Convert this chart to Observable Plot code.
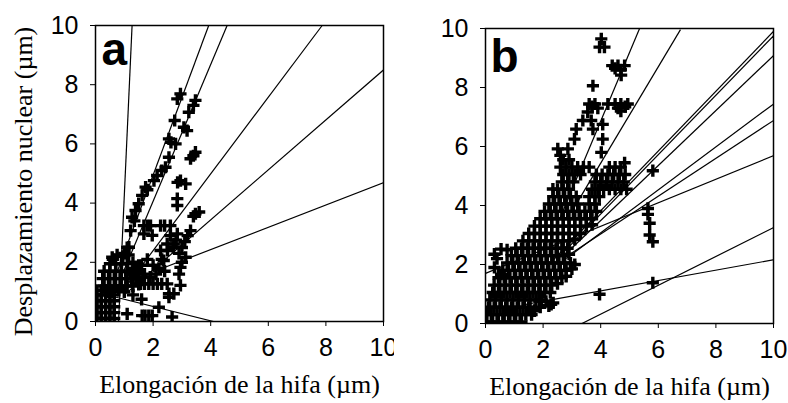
<!DOCTYPE html>
<html><head><meta charset="utf-8">
<script src="https://cdn.jsdelivr.net/npm/d3@7"></script>
<script src="https://cdn.jsdelivr.net/npm/@observablehq/plot@0.6"></script>
<style>
html,body{margin:0;padding:0;background:#fff;}
#wrap{position:relative;width:788px;height:403px;}
#pa{position:absolute;left:0;top:0;}
#pb{position:absolute;left:394px;top:0;}
</style></head>
<body><div id="wrap"><div id="pa"></div><div id="pb"></div></div>
<script>
const xTicks = [0, 2, 4, 6, 8, 10];
const yTicks = [0, 2, 4, 6, 8, 10];
const xLabel = "Elongación de la hifa (µm)";
const yLabel = "Desplazamiento nuclear (µm)";
const panelLetters = ["a", "b"];

// Panel a: regression lines [x1, y1, x2, y2]
const linesA = [
  [0.80, 0.00, 1.27, 10.0],
  [0.70, 1.54, 3.93, 10.0],
  [0.90, 1.52, 4.57, 10.0],
  [1.00, 1.10, 7.87, 10.0],
  [1.00, 0.90, 10.0, 8.50],
  [1.00, 1.30, 10.0, 4.69],
  [0.30, 0.92, 4.10, 0.00]
];
// Panel a: observations [x, y]
const pointsA = [
  [2.95,7.69],[2.84,7.52],[3.47,7.47],[3.40,7.30],[3.24,7.07],[2.75,6.79],[3.07,6.56],[3.18,6.45],
  [2.55,6.17],[2.62,6.05],[2.78,6.00],[3.47,5.72],[3.40,5.60],[3.30,5.50],[2.55,5.55],[2.43,5.21],
  [2.30,5.10],[2.14,4.93],[2.03,4.76],[2.95,4.76],[3.13,4.65],[2.85,4.70],[1.74,4.54],[1.80,4.45],
  [1.62,4.26],[2.84,4.15],[2.84,3.92],[3.47,3.64],[3.60,3.70],[3.40,3.55],[1.50,3.98],[1.39,3.75],
  [1.27,3.52],[1.35,3.40],[1.68,3.24],[1.80,3.24],[1.91,3.24],[2.26,3.24],[2.40,3.24],[2.60,3.24],
  [1.97,2.91],[1.68,2.96],[2.84,2.96],[2.72,2.62],[2.49,2.62],[3.30,3.07],[3.20,2.90],[3.13,2.17],
  [2.26,2.40],[2.37,2.06],[1.22,3.07],[1.16,2.51],[0.58,2.17],[2.60,2.90],[2.80,2.75],[3.00,2.50],
  [2.90,2.30],[2.50,2.40],[2.70,2.50],[3.10,2.70],[2.95,1.83],[2.90,1.60],[3.00,2.00],[2.72,0.94],
  [2.55,0.94],[2.95,1.22],[1.56,1.27],[1.70,1.27],[1.85,1.27],[2.00,1.27],[2.15,1.27],[2.30,1.27],
  [2.49,1.27],[1.10,0.26],[1.62,0.20],[1.72,0.20],[1.85,0.20],[1.97,0.20],[2.66,0.15],[2.55,0.82],
  [2.20,0.48],[1.60,0.75],[1.30,0.90],[1.30,1.80],[1.50,1.70],[1.70,1.60],[1.90,1.50],[2.10,1.60],
  [1.40,1.50],[1.20,1.60],[1.60,1.90],[1.80,2.10],[2.00,1.90],[2.20,1.80],[2.30,2.10],[2.40,1.70],
  [0.30,1.20],[0.50,1.20],[0.70,1.20],[0.90,1.20],[1.10,1.20],[1.30,1.20],[1.50,1.25],
  [0.25,1.45],[0.45,1.45],[0.65,1.45],[0.85,1.45],[1.05,1.45],[1.25,1.45],[1.45,1.45],[1.65,1.50],
  [0.30,1.70],[0.50,1.70],[0.70,1.70],[0.90,1.70],[1.10,1.70],[1.30,1.65],[1.50,1.90],
  [0.50,1.95],[0.70,1.95],[0.90,1.95],[1.10,1.95],[1.30,2.00],[0.95,2.20],[1.15,2.25],
  [1.00,2.30],[1.10,2.50],[0.60,2.10],[0.75,2.25],[0.40,1.00],[0.60,1.00],[0.80,1.05],[1.00,1.00],
  [0.05,0.10],[0.20,0.10],[0.35,0.10],[0.50,0.10],[0.65,0.10],
  [0.05,0.30],[0.20,0.30],[0.35,0.30],[0.50,0.30],[0.65,0.30],
  [0.05,0.50],[0.20,0.50],[0.35,0.50],[0.50,0.50],[0.65,0.50],
  [0.05,0.70],[0.20,0.70],[0.35,0.70],[0.50,0.70],[0.65,0.70],
  [0.05,0.90],[0.20,0.90],[0.35,0.90],[0.50,0.90],[0.65,0.90],
  [0.05,1.05],[0.20,1.05],[0.35,1.05],[0.50,1.05],[0.65,1.05]
];

// Panel b: regression lines [x1, y1, x2, y2]
const linesB = [
  [2.60, 3.60, 5.35, 10.0],
  [3.00, 3.80, 6.77, 9.96],
  [2.30, 2.10, 10.0, 9.90],
  [2.50, 2.20, 10.0, 9.75],
  [3.00, 2.56, 10.0, 9.08],
  [2.80, 2.20, 10.0, 7.44],
  [2.70, 2.20, 10.0, 6.88],
  [0.00, 1.70, 10.0, 5.69],
  [3.35, 0.00, 10.0, 3.25],
  [1.40, 0.65, 10.0, 2.16]
];
// Panel b: observations [x, y]
const pointsB = [
  // sparse upper part
  [4.02,9.65],[4.13,9.37],[3.96,9.37],[4.40,8.74],[4.50,8.65],[4.60,8.74],[4.70,8.60],[4.83,8.74],
  [4.71,8.42],[3.73,8.06],[3.60,7.44],[3.70,7.35],[3.80,7.44],[3.90,7.30],[4.25,7.44],[4.50,7.44],
  [4.60,7.30],[4.70,7.44],[4.85,7.35],[4.94,7.44],[4.70,7.20],[3.55,7.17],[3.38,6.88],[3.67,6.88],
  [3.73,6.59],[4.07,6.75],[3.15,6.59],[3.09,6.25],[4.07,6.25],[4.02,5.80],[2.86,5.92],[2.51,5.92],
  [2.60,5.70],[4.83,5.45],[2.34,4.56],[0.54,2.52],[0.31,2.35],[0.31,1.90],[0.54,1.67],[0.40,2.20],
  // dense cloud, read row by row
  [0.05,0.05],[0.25,0.05],[0.45,0.05],[0.65,0.05],[0.85,0.05],[1.05,0.05],[1.25,0.05],
  [0.00,0.30],[0.20,0.30],[0.40,0.30],[0.60,0.30],[0.80,0.30],[1.00,0.30],[1.20,0.30],[1.40,0.30],[1.60,0.30],
  [0.10,0.55],[0.30,0.55],[0.50,0.55],[0.70,0.55],[0.90,0.55],[1.10,0.55],[1.30,0.55],[1.50,0.55],[1.70,0.45],[1.90,0.55],
  [0.15,0.80],[0.35,0.80],[0.55,0.80],[0.75,0.80],[0.95,0.80],[1.15,0.80],[1.35,0.80],[1.55,0.80],[1.75,0.80],[1.95,0.80],[2.10,0.75],
  [0.25,1.05],[0.45,1.05],[0.65,1.05],[0.85,1.05],[1.05,1.05],[1.25,1.05],[1.45,1.05],[1.65,1.05],[1.85,1.05],[2.05,1.05],[2.25,1.05],
  [0.30,1.30],[0.50,1.30],[0.70,1.30],[0.90,1.30],[1.10,1.30],[1.30,1.30],[1.50,1.30],[1.70,1.30],[1.90,1.30],[2.10,1.30],[2.30,1.30],[2.50,1.35],
  [0.45,1.55],[0.65,1.55],[0.85,1.55],[1.05,1.55],[1.25,1.55],[1.45,1.55],[1.65,1.55],[1.85,1.55],[2.05,1.55],[2.25,1.55],[2.45,1.55],[2.65,1.55],[2.80,1.60],
  [0.60,1.80],[0.80,1.80],[1.00,1.80],[1.20,1.80],[1.40,1.80],[1.60,1.80],[1.80,1.80],[2.00,1.80],[2.20,1.80],[2.40,1.80],[2.60,1.80],[2.80,1.80],[3.00,1.85],
  [0.75,2.05],[0.95,2.05],[1.15,2.05],[1.35,2.05],[1.55,2.05],[1.75,2.05],[1.95,2.05],[2.15,2.05],[2.35,2.05],[2.55,2.05],[2.75,2.05],[2.95,2.05],[3.10,2.00],
  [0.90,2.30],[1.10,2.30],[1.30,2.30],[1.50,2.30],[1.70,2.30],[1.90,2.30],[2.10,2.30],[2.30,2.30],[2.50,2.30],[2.70,2.30],[2.90,2.35],
  [0.75,2.50],[1.05,2.55],[1.25,2.55],[1.45,2.55],[1.65,2.55],[1.85,2.55],[2.05,2.55],[2.25,2.55],[2.45,2.55],[2.65,2.55],[2.85,2.55],
  [1.30,2.80],[1.50,2.80],[1.70,2.80],[1.90,2.80],[2.10,2.80],[2.30,2.80],[2.50,2.80],[2.70,2.80],[2.90,2.80],[3.10,2.85],
  [1.50,3.05],[1.70,3.05],[1.90,3.05],[2.10,3.05],[2.30,3.05],[2.50,3.05],[2.70,3.05],[2.90,3.05],[3.10,3.05],[3.30,3.05],
  [1.70,3.30],[1.90,3.30],[2.10,3.30],[2.30,3.30],[2.50,3.30],[2.70,3.30],[2.90,3.30],[3.10,3.30],[3.30,3.30],[3.50,3.30],[3.70,3.35],
  [1.90,3.55],[2.10,3.55],[2.30,3.55],[2.50,3.55],[2.70,3.55],[2.90,3.55],[3.10,3.55],[3.30,3.55],[3.50,3.55],[3.70,3.55],
  [2.05,3.80],[2.25,3.80],[2.45,3.80],[2.65,3.80],[2.85,3.80],[3.05,3.80],[3.25,3.80],[3.45,3.80],[3.65,3.80],[3.85,3.80],
  [2.20,4.05],[2.40,4.05],[2.60,4.05],[2.80,4.05],[3.00,4.05],[3.20,4.05],[3.60,4.05],[3.80,4.05],
  [2.35,4.30],[2.55,4.30],[2.75,4.30],[2.95,4.30],[3.15,4.30],[3.60,4.30],[3.80,4.30],[3.95,4.30],
  [2.50,4.55],[2.70,4.55],[2.90,4.55],[3.70,4.55],[3.90,4.55],[4.10,4.55],[4.30,4.55],[4.50,4.55],[4.70,4.55],[4.90,4.55],
  [2.65,4.80],[2.85,4.80],[3.05,4.80],[3.80,4.80],[4.00,4.80],[4.20,4.80],[4.40,4.80],[4.60,4.80],[4.80,4.80],
  [2.70,5.05],[2.90,5.05],[3.10,5.05],[3.30,5.05],[3.85,5.05],[4.05,5.05],[4.25,5.05],[4.45,5.05],[4.65,5.05],[4.85,5.05],
  [2.60,5.30],[2.80,5.30],[3.00,5.30],[3.20,5.30],[3.40,5.30],[3.60,5.30],[4.30,5.30],[4.50,5.30],[4.70,5.30],
  [2.70,5.55],[2.90,5.55],
  // outliers
  [1.87,0.77],[2.28,0.65],[2.35,0.70],[2.20,0.60],[1.70,0.43],[3.96,0.99],[5.81,5.18],[5.64,3.90],
  [5.64,3.70],[5.70,3.40],[5.70,3.00],[5.81,2.77],[5.81,1.38]
];

function panel(points, lines, letter, m, showYLabel, letterDy, letterDx) {
  const marks = [
    Plot.frame({stroke: "#000", strokeWidth: 1.5}),
    Plot.link(lines, {x1: d => d[0], y1: d => d[1], x2: d => d[2], y2: d => d[3], stroke: "#000", strokeWidth: 1.2, clip: true}),
    Plot.dot(points, {x: d => d[0], y: d => d[1], symbol: "plus", r: 4, stroke: "#000", strokeWidth: 3.4, clip: true}),
    Plot.axisX(xTicks, {tickSize: 5, tickPadding: 12, fontSize: 25, label: null}),
    Plot.axisY(yTicks, {tickSize: 5, tickPadding: 12, fontSize: 25, label: null}),
    Plot.text([xLabel], {frameAnchor: "bottom", dy: 63, lineAnchor: "middle", textAnchor: "middle", text: d => d,
      fontFamily: "Liberation Serif, Times New Roman, serif", fontSize: 26}),
    Plot.text([letter], {frameAnchor: "top-left", dx: letterDx, dy: letterDy, lineAnchor: "top", textAnchor: "start", text: d => d,
      fontFamily: "Liberation Sans, Arial, sans-serif", fontWeight: "bold", fontSize: 46})
  ];
  if (showYLabel) {
    marks.push(Plot.text([yLabel], {frameAnchor: "left", dx: -72, dy: 8, rotate: -90, lineAnchor: "middle", textAnchor: "middle", text: d => d,
      fontFamily: "Liberation Serif, Times New Roman, serif", fontSize: 26}));
  }
  return Plot.plot({
    width: 394, height: 403,
    marginLeft: m[0], marginRight: m[1], marginTop: m[2], marginBottom: m[3],
    x: {domain: [0, 10]},
    y: {domain: [0, 10]},
    style: {fontFamily: "Liberation Sans, Arial, sans-serif", color: "#000", background: "#fff", overflow: "visible"},
    marks
  });
}

document.getElementById("pa").appendChild(panel(pointsA, linesA, panelLetters[0], [95, 11, 25, 82], true, 7, 6));
document.getElementById("pb").appendChild(panel(pointsB, linesB, panelLetters[1], [91, 15, 28, 80], false, 11, 5));
</script></body></html>
